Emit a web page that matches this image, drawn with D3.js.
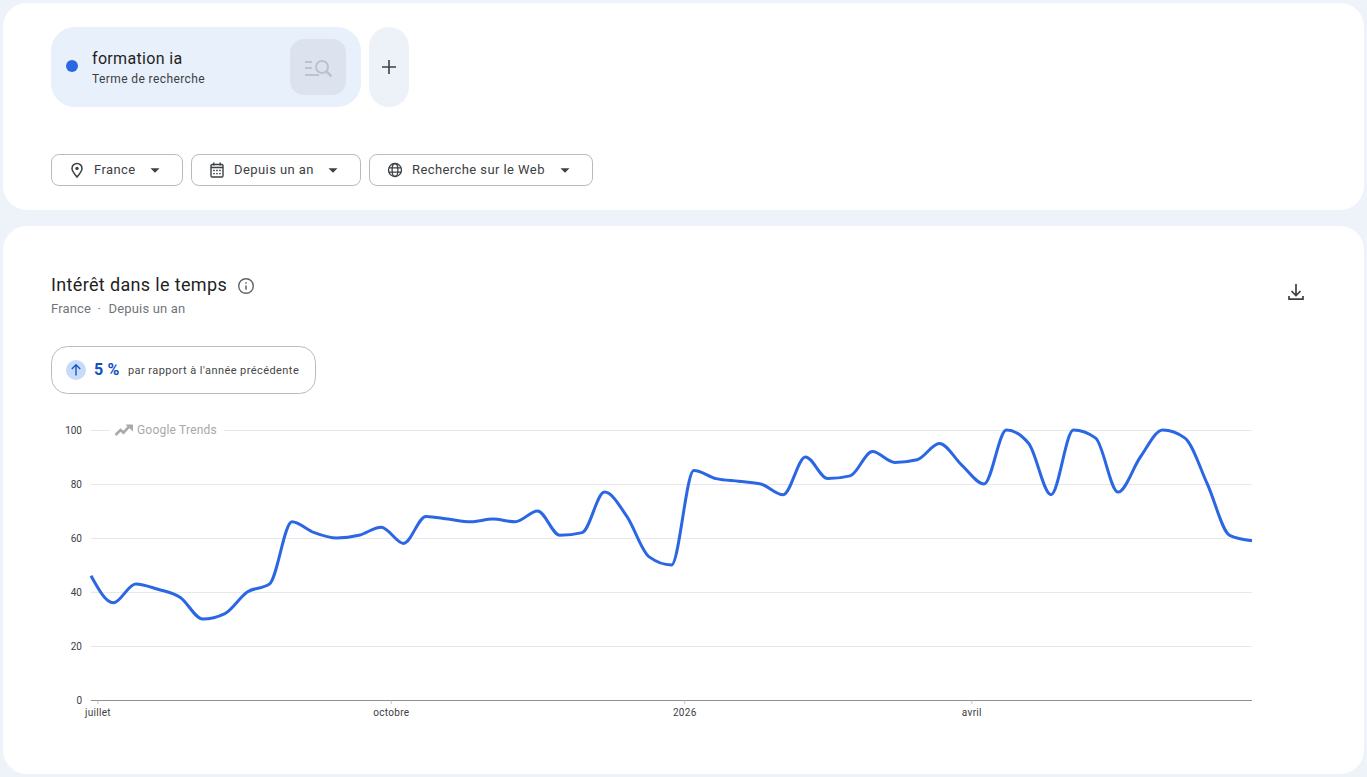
<!DOCTYPE html>
<html lang="fr">
<head>
<meta charset="utf-8">
<title>Intérêt dans le temps</title>
<script src="https://cdn.jsdelivr.net/npm/d3@7"></script>
<style>
html,body{margin:0;padding:0;background:#eef2f9;overflow:hidden}
svg{display:block}
text{font-family:Roboto,"Noto Sans",sans-serif}
</style>
</head>
<body>
<svg id="page" width="1367" height="777"></svg>
<script>
// Weekly search interest, starting on Sunday 29 June 2025
const firstWeek = new Date(Date.UTC(2025, 5, 29));
const interest = [46,36,43,41,38,30,32,40,43,66,62,60,61,64,58,68,67,66,67,66,70,61,62,77,68,53,50,85,82,81,80,76,90,82,83,92,88,89,95,87,80,100,95,76,100,97,77,90,100,97,80,61,59];
const yTicks = [0,20,40,60,80,100];
const xTickDates = [new Date(Date.UTC(2025,6,1)), new Date(Date.UTC(2025,9,1)), new Date(Date.UTC(2026,0,1)), new Date(Date.UTC(2026,3,1))];
const xTickLabels = ["juillet","octobre","2026","avril"];
const filters = [
  {label:"France", icon:"pin"},
  {label:"Depuis un an", icon:"calendar"},
  {label:"Recherche sur le Web", icon:"globe"}
];
const filterBoxes = [[51,132],[191,170],[369,224]];

const BLUE = "#2b67e3";
const svg = d3.select("#page");

const weeks = interest.map((v,i)=>({date:d3.utcDay.offset(firstWeek,i*7), value:v}));

// Cards
svg.append("rect").attr("x",3).attr("y",3).attr("width",1361).attr("height",207).attr("rx",24).attr("fill","#fff");
svg.append("rect").attr("x",3).attr("y",226).attr("width",1361).attr("height",548).attr("rx",24).attr("fill","#fff");

// Search term chip
const termChip = svg.append("g");
termChip.append("rect").attr("x",51).attr("y",27).attr("width",310).attr("height",80).attr("rx",24).attr("fill","#e8f0fb");
termChip.append("circle").attr("cx",72).attr("cy",66).attr("r",6).attr("fill",BLUE);
termChip.append("text").attr("x",92).attr("y",64).attr("font-size",16).attr("letter-spacing",.33).attr("fill","#1f1f1f").text("formation ia");
termChip.append("text").attr("x",92).attr("y",83).attr("font-size",12).attr("letter-spacing",.4).attr("fill","#3c4043").text("Terme de recherche");
termChip.append("rect").attr("x",290).attr("y",39).attr("width",56).attr("height",56).attr("rx",14).attr("fill","#dde3ee");
const searchIcon = termChip.append("g").attr("fill","none").attr("stroke","#bcc3cf").attr("stroke-width",2);
searchIcon.append("path").attr("d","M305 62h7M305 68h7M305 75h14");
searchIcon.append("circle").attr("cx",322).attr("cy",67).attr("r",6);
searchIcon.append("path").attr("d","M326.5 71.5l5 5").attr("stroke-width",2.5);
termChip.append("rect").attr("x",369).attr("y",27).attr("width",40).attr("height",80).attr("rx",20).attr("fill","#edf1f8");
termChip.append("path").attr("d","M389 60v14M382 67h14").attr("stroke","#3c4043").attr("stroke-width",1.6).attr("fill","none");

// Filter buttons
const drawIcon = {
  pin(g,cx,cy){
    g.append("path").attr("d",`M${cx} ${cy+7}c-3-3.6-5-6-5-8.6a5 5 0 0 1 10 0c0 2.6-2 5-5 8.6z`).attr("fill","none").attr("stroke","#3c4043").attr("stroke-width",1.5);
    g.append("circle").attr("cx",cx).attr("cy",cy-1.6).attr("r",1.7).attr("fill","#3c4043");
  },
  calendar(g,cx,cy){
    g.append("rect").attr("x",cx-6).attr("y",cy-5.5).attr("width",12).attr("height",12.5).attr("rx",1.2).attr("fill","none").attr("stroke","#3c4043").attr("stroke-width",1.4);
    g.append("path").attr("d",`M${cx-6} ${cy-2.5}h12M${cx-3.2} ${cy-7.5}v3M${cx+3.2} ${cy-7.5}v3`).attr("stroke","#3c4043").attr("stroke-width",1.4);
    g.append("path").attr("d",`M${cx-3.8} ${cy+0.5}h7.6M${cx-3.8} ${cy+3.6}h7.6`).attr("stroke","#3c4043").attr("stroke-width",1.4).attr("stroke-dasharray","1.6 1.4");
  },
  globe(g,cx,cy){
    const s = g.append("g").attr("fill","none").attr("stroke","#3c4043").attr("stroke-width",1.3);
    s.append("circle").attr("cx",cx).attr("cy",cy).attr("r",6.5);
    s.append("ellipse").attr("cx",cx).attr("cy",cy).attr("rx",2.9).attr("ry",6.5);
    s.append("path").attr("d",`M${cx-6.2} ${cy-2.2}h12.4M${cx-6.2} ${cy+2.2}h12.4`);
  }
};
filters.forEach((f,i)=>{
  const [x,w] = filterBoxes[i];
  const g = svg.append("g");
  g.append("rect").attr("x",x+.5).attr("y",154.5).attr("width",w-1).attr("height",31).attr("rx",7.5).attr("fill","#fff").attr("stroke","#b9bbbe");
  drawIcon[f.icon](g,x+26,170);
  g.append("text").attr("x",x+43).attr("y",174).attr("font-size",13).attr("letter-spacing",.42).attr("fill","#3c4043").text(f.label);
  g.append("path").attr("d",`M${x+w-32.5} 168.2h9l-4.5 4.5z`).attr("fill","#3c4043");
});

// Section header
const head = svg.append("g");
head.append("text").attr("x",51).attr("y",291).attr("font-size",18).attr("fill","#1f1f1f").attr("letter-spacing",.35).text("Intérêt dans le temps");
const info = head.append("g").attr("fill","none").attr("stroke","#5f6368");
info.append("circle").attr("cx",246).attr("cy",286).attr("r",7.3).attr("stroke-width",1.4);
info.append("path").attr("d","M246 285.4v4.4").attr("stroke-width",1.5);
info.append("path").attr("d","M246 282.2v1.6").attr("stroke-width",1.5);
head.append("text").attr("x",51).attr("y",313).attr("font-size",13).attr("letter-spacing",.17).attr("fill","#70757a").text("France");
head.append("text").attr("x",97.5).attr("y",313).attr("font-size",13).attr("fill","#70757a").text("·");
head.append("text").attr("x",108.5).attr("y",313).attr("font-size",13).attr("letter-spacing",.17).attr("fill","#70757a").text("Depuis un an");
head.append("path").attr("d","M1296 284v11M1291.5 291l4.5 4.5 4.5-4.5M1289 296v3.2h14V296").attr("fill","none").attr("stroke","#3c4043").attr("stroke-width",1.7);

// Year-over-year badge
const badge = svg.append("g");
badge.append("rect").attr("x",51.5).attr("y",346.5).attr("width",264).attr("height",47).attr("rx",16).attr("fill","#fff").attr("stroke","#b9bbbe");
badge.append("circle").attr("cx",76).attr("cy",370).attr("r",10).attr("fill","#c9dbfa");
badge.append("path").attr("d","M76 375.5v-10.5M71.8 369l4.2-4.2 4.2 4.2").attr("fill","none").attr("stroke","#1a56c4").attr("stroke-width",1.4);
badge.append("text").attr("x",94).attr("y",375).attr("font-size",16).attr("font-weight",700).attr("letter-spacing",.2).attr("fill","#0f4fc6").text("5 %");
badge.append("text").attr("x",128).attr("y",374).attr("font-size",11).attr("letter-spacing",.43).attr("fill","#444746").text("par rapport à l'année précédente");

// Chart scales
const x = d3.scaleUtc().domain([weeks[0].date, weeks[weeks.length-1].date]).range([91,1252]);
const y = d3.scaleLinear().domain([0,100]).range([700,430]);

// Horizontal grid lines
svg.append("g").selectAll("line").data(yTicks.filter(d=>d>0)).join("line")
  .attr("x1",91).attr("x2",1252).attr("y1",d=>y(d)+.5).attr("y2",d=>y(d)+.5).attr("stroke","#e8e8e8");

// Watermark sits over the top grid line
const mark = svg.append("g");
mark.append("rect").attr("x",110).attr("y",420).attr("width",114).attr("height",20).attr("fill","#fff");
mark.append("path").attr("d","M115.5 435l5-5 3 2.6 5.5-6").attr("fill","none").attr("stroke","#a9a9a9").attr("stroke-width",2.6);
mark.append("path").attr("d","M125.5 424.5h7.5v7z").attr("fill","#a9a9a9");
mark.append("text").attr("x",137).attr("y",434).attr("font-size",12).attr("letter-spacing",.2).attr("fill","#a8a8a8").attr("font-weight",400).text("Google").append("tspan").attr("dx",3).text("Trends");

// Axes
const yAxis = d3.axisLeft(y).tickValues(yTicks).tickSize(0).tickPadding(9);
svg.append("g").attr("transform","translate(91,0)").call(yAxis)
  .call(g=>g.select(".domain").remove())
  .call(g=>g.selectAll("text").attr("font-size",10).attr("font-family","Roboto").attr("fill","#3c4043"));

const xAxis = d3.axisBottom(x).tickValues(xTickDates).tickSize(3.5).tickPadding(5)
  .tickFormat((d,i)=>xTickLabels[i]);
svg.append("g").attr("transform","translate(0,700.5)").call(xAxis)
  .call(g=>g.select(".domain").attr("stroke","#8f8f8f").attr("d","M91,0H1252"))
  .call(g=>g.selectAll("line").attr("stroke","#c4c4c4"))
  .call(g=>g.selectAll("text").attr("font-size",10).attr("font-family","Roboto").attr("letter-spacing",.3).attr("fill","#3c4043"));

// Interest line
const line = d3.line().x(d=>x(d.date)).y(d=>y(d.value)).curve(d3.curveMonotoneX);
svg.append("path").datum(weeks).attr("d",line).attr("fill","none").attr("stroke",BLUE).attr("stroke-width",3);
</script>
</body>
</html>
